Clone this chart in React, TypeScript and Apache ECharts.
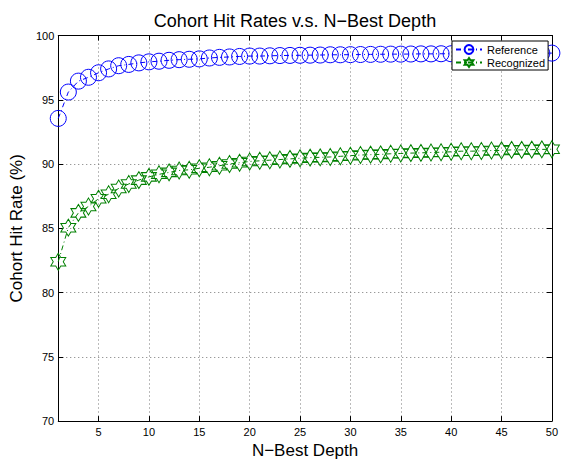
import React, { useEffect, useRef } from "react";
import * as echarts from "echarts";

const depths: number[] = Array.from({ length: 50 }, (_, i) => i + 1);

const referenceRates: number[] = [
  93.55, 95.6, 96.45, 96.75, 97.1, 97.4, 97.65, 97.75, 97.87, 97.95,
  98.0, 98.07, 98.12, 98.15, 98.18, 98.25, 98.3, 98.33, 98.37, 98.4,
  98.4, 98.42, 98.44, 98.45, 98.46, 98.47, 98.48, 98.5, 98.5, 98.51,
  98.52, 98.53, 98.54, 98.55, 98.55, 98.56, 98.57, 98.57, 98.58, 98.58,
  98.59, 98.59, 98.6, 98.6, 98.6, 98.61, 98.61, 98.62, 98.62, 98.63,
];

const recognizedRates: number[] = [
  82.4, 85.05, 86.2, 86.7, 87.3, 87.65, 88.1, 88.45, 88.75, 89.0,
  89.2, 89.35, 89.5, 89.55, 89.67, 89.75, 89.87, 90.0, 90.1, 90.2,
  90.25, 90.3, 90.35, 90.4, 90.45, 90.5, 90.52, 90.55, 90.6, 90.65,
  90.7, 90.73, 90.75, 90.8, 90.82, 90.85, 90.87, 90.9, 90.92, 90.95,
  91.0, 91.0, 91.02, 91.05, 91.06, 91.1, 91.1, 91.12, 91.14, 91.15,
];

const xTickValues: number[] = [5, 10, 15, 20, 25, 30, 35, 40, 45, 50];

const hexagram =
  "path://M50 0 L64.43 25 L93.3 25 L78.87 50 L93.3 75 L64.43 75 L50 100 L35.57 75 L6.7 75 L21.13 50 L6.7 25 L35.57 25 Z";

const FONT = "'Liberation Sans', Arial, Helvetica, sans-serif";

export default function App() {
  const ref = useRef<HTMLDivElement>(null);
  useEffect(() => {
    if (!ref.current) return;
    const chart = echarts.init(ref.current, undefined, { renderer: "svg" });
    const dotted = { type: [1, 3] as number[], color: "#777", width: 1 };
    chart.setOption({
      animation: false,
      backgroundColor: "#fff",
      textStyle: { fontFamily: FONT },
      title: {
        text: "Cohort Hit Rates v.s. N\u2212Best Depth",
        left: 290,
        textAlign: "center",
        top: 7,
        textStyle: { fontSize: 18, fontWeight: "normal", color: "#000", fontFamily: FONT },
      },
      grid: { left: 53.5, right: 8, top: 35.5, bottom: 34 },
      legend: {
        left: 452,
        top: 41,
        orient: "vertical",
        backgroundColor: "#fff",
        borderColor: "#000",
        borderWidth: 1,
        borderRadius: 0,
        padding: [3, 3, 2, 3],
        itemGap: 2,
        itemWidth: 26,
        itemHeight: 11,
        textStyle: { fontSize: 11, color: "#000", fontFamily: FONT },
        data: ["Reference", "Recognized"],
      },
      xAxis: [
        {
          type: "value",
          min: 1,
          max: 50,
          position: "bottom",
          name: "N\u2212Best Depth",
          nameLocation: "middle",
          nameGap: 16,
          nameTextStyle: { fontSize: 17, color: "#000", fontFamily: FONT },
          axisLine: { show: true, onZero: false, lineStyle: { color: "#000", width: 1 } },
          axisTick: { show: true, inside: true, length: 5, customValues: xTickValues, lineStyle: { color: "#000" } },
          axisLabel: { show: true, customValues: xTickValues, fontSize: 11, color: "#000", margin: 5, fontFamily: FONT },
          splitLine: { show: true, lineStyle: dotted },
        },
        {
          type: "value",
          min: 1,
          max: 50,
          position: "top",
          axisLine: { show: true, onZero: false, lineStyle: { color: "#000", width: 1 } },
          axisTick: { show: true, inside: true, length: 5, customValues: xTickValues, lineStyle: { color: "#000" } },
          axisLabel: { show: false },
          splitLine: { show: false },
        },
      ],
      yAxis: [
        {
          type: "value",
          min: 70,
          max: 100,
          interval: 5,
          position: "left",
          name: "Cohort Hit Rate (%)",
          nameLocation: "middle",
          nameGap: 28,
          nameTextStyle: { fontSize: 17, color: "#000", fontFamily: FONT },
          axisLine: { show: true, onZero: false, lineStyle: { color: "#000", width: 1 } },
          axisTick: { show: true, inside: true, length: 5, lineStyle: { color: "#000" } },
          axisLabel: { show: true, fontSize: 11, color: "#000", margin: 4, fontFamily: FONT },
          splitLine: { show: true, lineStyle: dotted },
        },
        {
          type: "value",
          min: 70,
          max: 100,
          interval: 5,
          position: "right",
          axisLine: { show: true, onZero: false, lineStyle: { color: "#000", width: 1 } },
          axisTick: { show: true, inside: true, length: 5, lineStyle: { color: "#000" } },
          axisLabel: { show: false },
          splitLine: { show: false },
        },
      ],
      series: [
        {
          name: "Reference",
          type: "line",
          data: depths.map((d, i) => [d, referenceRates[i]]),
          symbol: "circle",
          symbolSize: 16,
          showAllSymbol: true,
          clip: false,
          lineStyle: { color: "#0000ff", width: 1, type: [5, 3, 1, 3] },
          itemStyle: { color: "rgba(0,0,0,0)", borderColor: "#0000ff", borderWidth: 1 },
        },
        {
          name: "Recognized",
          type: "line",
          data: depths.map((d, i) => [d, recognizedRates[i]]),
          symbol: hexagram,
          symbolSize: [15, 17],
          showAllSymbol: true,
          clip: false,
          lineStyle: { color: "#008000", width: 1, type: [5, 3, 1, 3] },
          itemStyle: { color: "rgba(0,0,0,0)", borderColor: "#008000", borderWidth: 1 },
        },
      ],
    });
    return () => chart.dispose();
  }, []);
  return <div ref={ref} style={{ width: 561, height: 464, position: "absolute", left: 0, top: 0 }} />;
}
